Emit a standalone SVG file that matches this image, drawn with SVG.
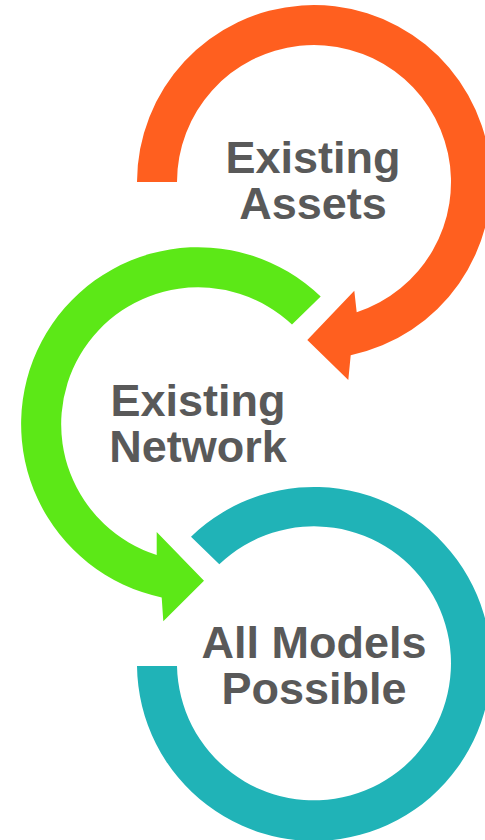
<svg xmlns="http://www.w3.org/2000/svg" width="485" height="840" viewBox="0 0 485 840">
<style>
.lbl{font-family:"Liberation Sans",Arial,sans-serif;font-weight:bold;font-size:45px;fill:#595959;text-anchor:middle}
.orange{fill:#FF5F1F}
.green{fill:#5CE817}
.teal{fill:#20B3B7}
</style>
<rect width="485" height="840" fill="#FFFFFF"/>
<g id="connectors">
<path class="orange" d="M137,182 A177,177 0 1 1 350.7,355.2 L348.3,380 L307.3,340 L354.3,290.7 L356.7,312.2 A137,137 0 1 0 177,182 Z"/>
<path class="green" d="M320.7,296.5 A177,177 0 1 0 161.7,597.4 L163.3,621.3 L204,580.7 L156.7,532 L156.7,554.9 A137,137 0 1 1 292,324.5 Z"/>
<path class="teal" d="M191,536.7 A177,177 0 1 1 137,666 L177,666 A137,137 0 1 0 219.3,564.3 Z"/>
</g>
<g id="existing-assets">
<text class="lbl" x="313" y="173">Existing</text>
<text class="lbl" x="313" y="219">Assets</text>
</g>
<g id="existing-network">
<text class="lbl" x="198" y="416">Existing</text>
<text class="lbl" x="198" y="462">Network</text>
</g>
<g id="all-models-possible">
<text class="lbl" x="314" y="658">All Models</text>
<text class="lbl" x="314" y="704">Possible</text>
</g>
</svg>
